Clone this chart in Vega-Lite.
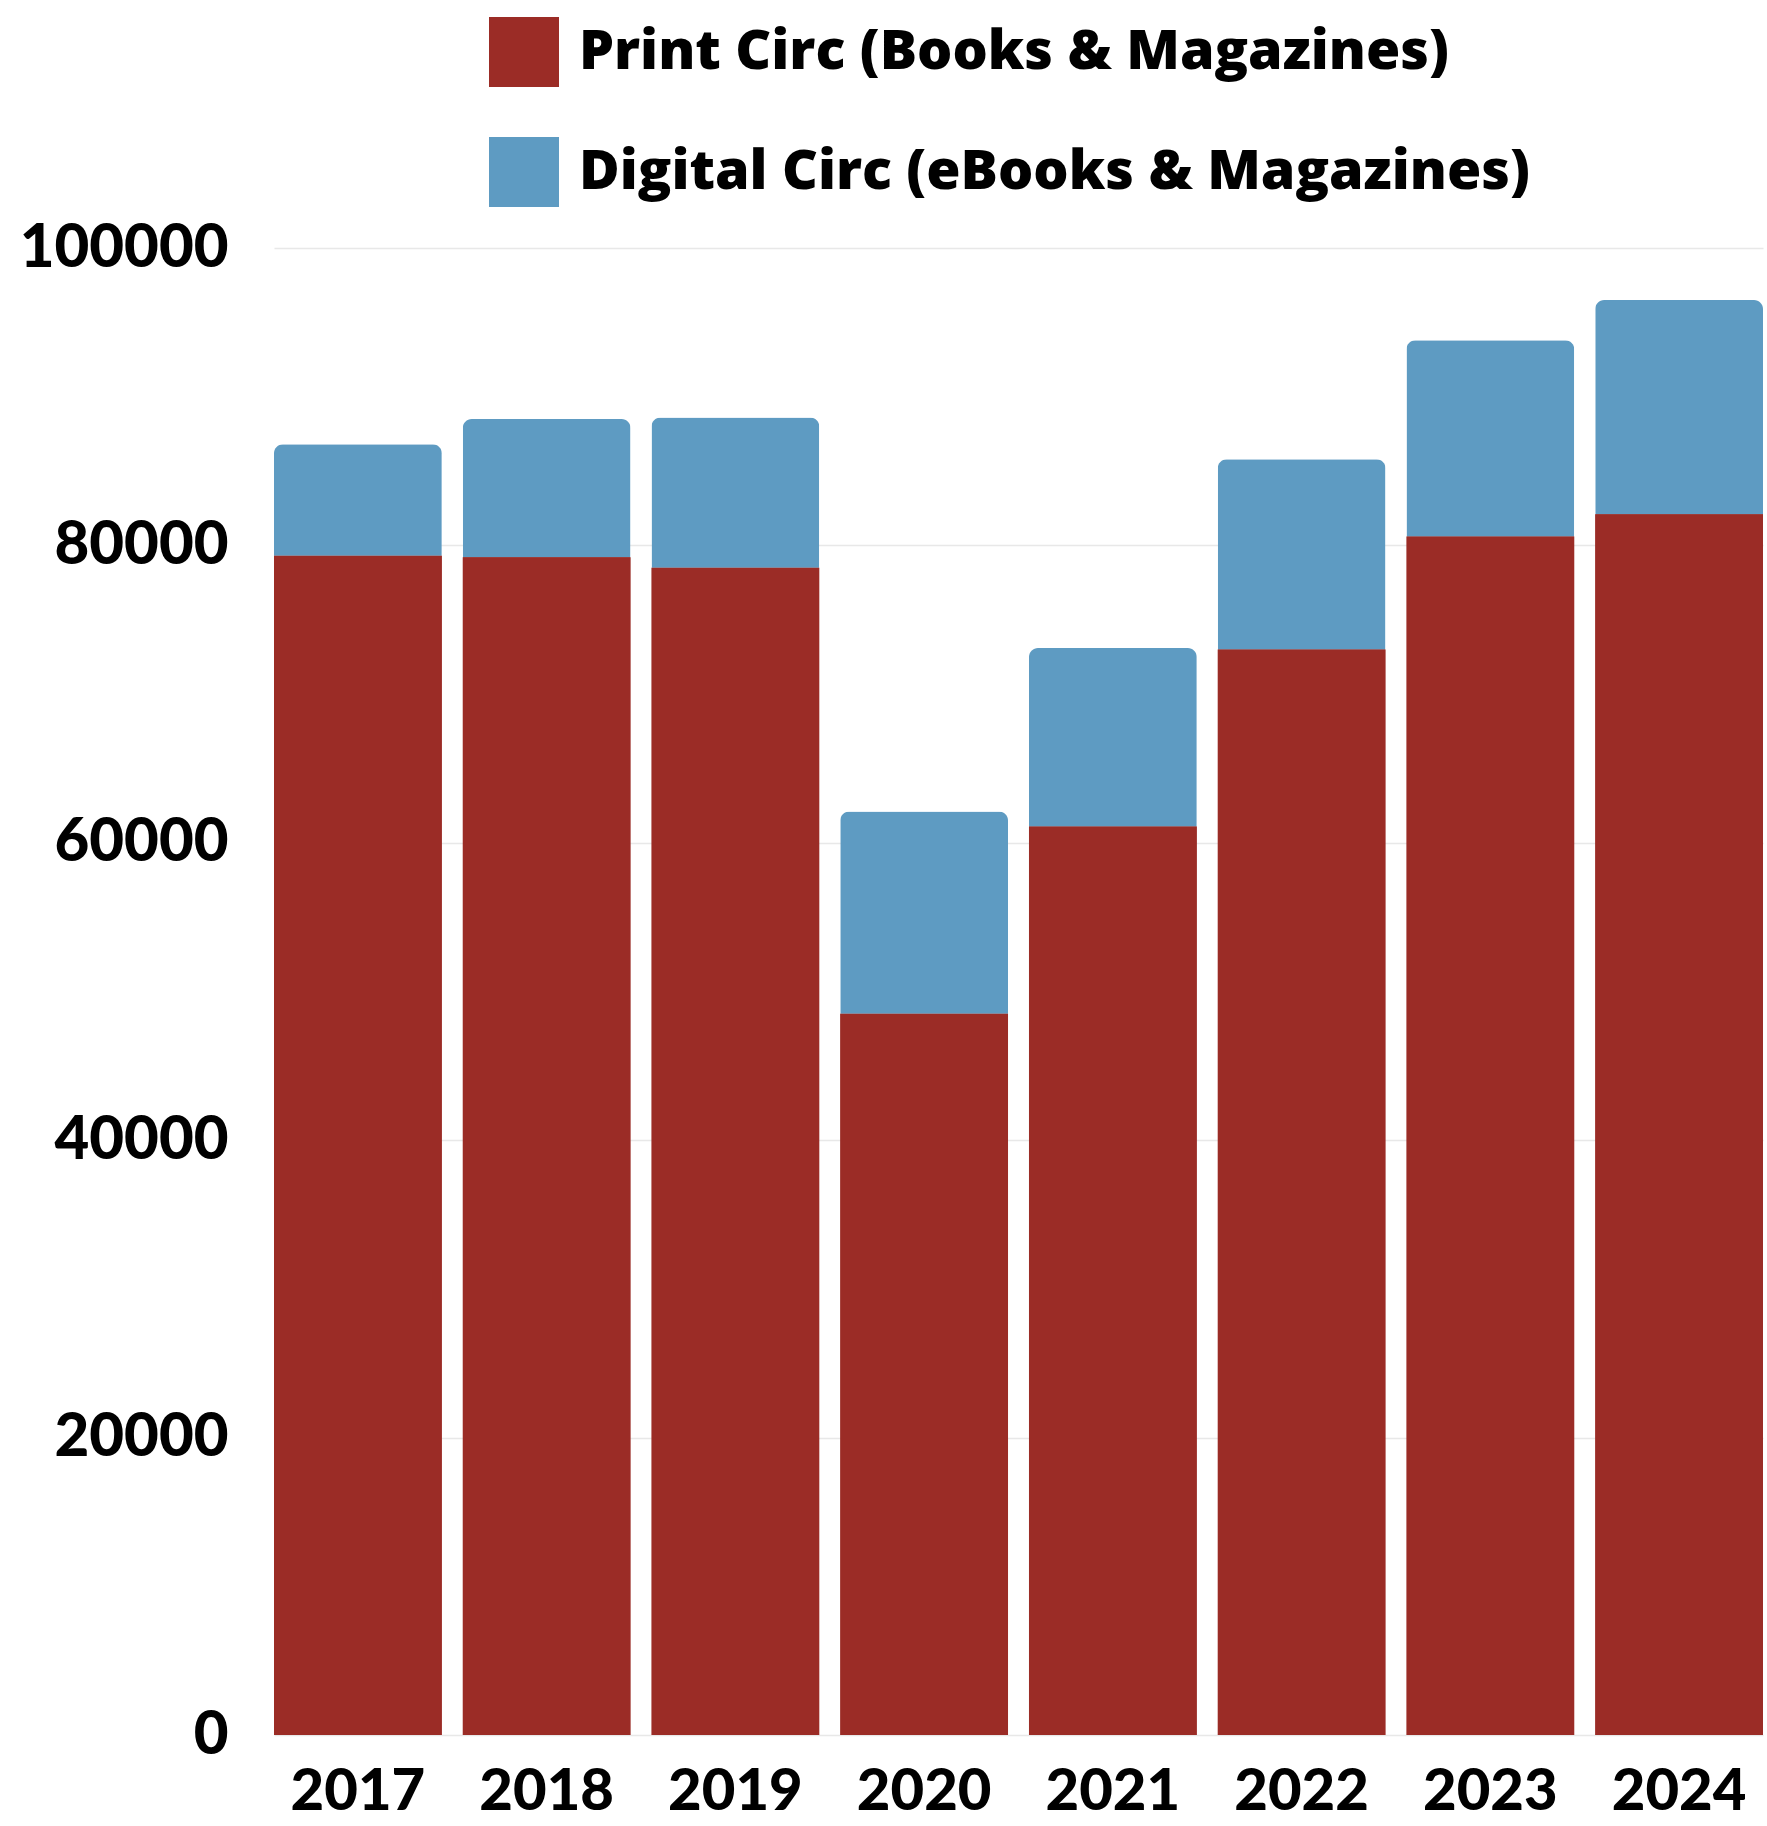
{
  "$schema": "https://vega.github.io/schema/vega-lite/v6.json",
  "autosize": {"type": "none"},
  "padding": {"left": 274, "top": 248, "right": 4, "bottom": 90},
  "width": 1489,
  "height": 1487,
  "background": "white",
  "data": {
    "values": [
      {"year": "2017", "series": "Print Circ (Books & Magazines)", "value": 79300},
      {"year": "2017", "series": "Digital Circ (eBooks & Magazines)", "value": 7500},
      {"year": "2018", "series": "Print Circ (Books & Magazines)", "value": 79200},
      {"year": "2018", "series": "Digital Circ (eBooks & Magazines)", "value": 9300},
      {"year": "2019", "series": "Print Circ (Books & Magazines)", "value": 78500},
      {"year": "2019", "series": "Digital Circ (eBooks & Magazines)", "value": 10100},
      {"year": "2020", "series": "Print Circ (Books & Magazines)", "value": 48500},
      {"year": "2020", "series": "Digital Circ (eBooks & Magazines)", "value": 13600},
      {"year": "2021", "series": "Print Circ (Books & Magazines)", "value": 61100},
      {"year": "2021", "series": "Digital Circ (eBooks & Magazines)", "value": 12000},
      {"year": "2022", "series": "Print Circ (Books & Magazines)", "value": 73000},
      {"year": "2022", "series": "Digital Circ (eBooks & Magazines)", "value": 12800},
      {"year": "2023", "series": "Print Circ (Books & Magazines)", "value": 80600},
      {"year": "2023", "series": "Digital Circ (eBooks & Magazines)", "value": 13200},
      {"year": "2024", "series": "Print Circ (Books & Magazines)", "value": 82100},
      {"year": "2024", "series": "Digital Circ (eBooks & Magazines)", "value": 14400}
    ]
  },
  "config": {
    "font": "Lato",
    "view": {"stroke": null},
    "axis": {
      "labelFont": "Lato",
      "labelFontWeight": 900,
      "labelColor": "#000000",
      "labelLimit": 400,
      "domain": false,
      "ticks": false,
      "title": null
    },
    "legend": {
      "labelFont": "Open Sans",
      "labelFontWeight": 800,
      "labelColor": "#000000"
    }
  },
  "layer": [
    {
      "mark": {"type": "bar", "cornerRadiusTopLeft": 9, "cornerRadiusTopRight": 9},
      "encoding": {
        "x": {
          "field": "year",
          "type": "ordinal",
          "scale": {"paddingInner": 0.111, "paddingOuter": 0},
          "axis": {"labelAngle": 0, "labelFontSize": 58, "labelPadding": 28, "grid": false}
        },
        "y": {
          "field": "value",
          "type": "quantitative",
          "stack": "zero",
          "scale": {"domain": [0, 100000], "nice": false},
          "axis": {
            "values": [0, 20000, 40000, 60000, 80000, 100000],
            "format": "d",
            "labelFontSize": 60,
            "labelPadding": 46,
            "grid": true,
            "gridColor": "#e8e8e8",
            "gridWidth": 1.5
          }
        },
        "color": {
          "field": "series",
          "type": "nominal",
          "scale": {
            "domain": ["Print Circ (Books & Magazines)", "Digital Circ (eBooks & Magazines)"],
            "range": ["#9B2C26", "#5E9BC2"]
          },
          "legend": {
            "title": null,
            "orient": "none",
            "legendX": 215,
            "legendY": -231,
            "direction": "vertical",
            "padding": 0,
            "symbolType": "square",
            "symbolSize": 4900,
            "symbolStrokeWidth": 0,
            "symbolOpacity": 1,
            "labelFontSize": 55.5,
            "labelOffset": 20,
            "rowPadding": 50,
            "labelLimit": 1400
          }
        },
        "order": {"field": "series", "sort": "descending"}
      }
    },
    {
      "transform": [{"filter": "datum.series === 'Print Circ (Books & Magazines)'"}],
      "mark": {"type": "bar", "color": "#9B2C26"},
      "encoding": {
        "x": {"field": "year", "type": "ordinal"},
        "y": {"field": "value", "type": "quantitative"}
      }
    }
  ]
}
